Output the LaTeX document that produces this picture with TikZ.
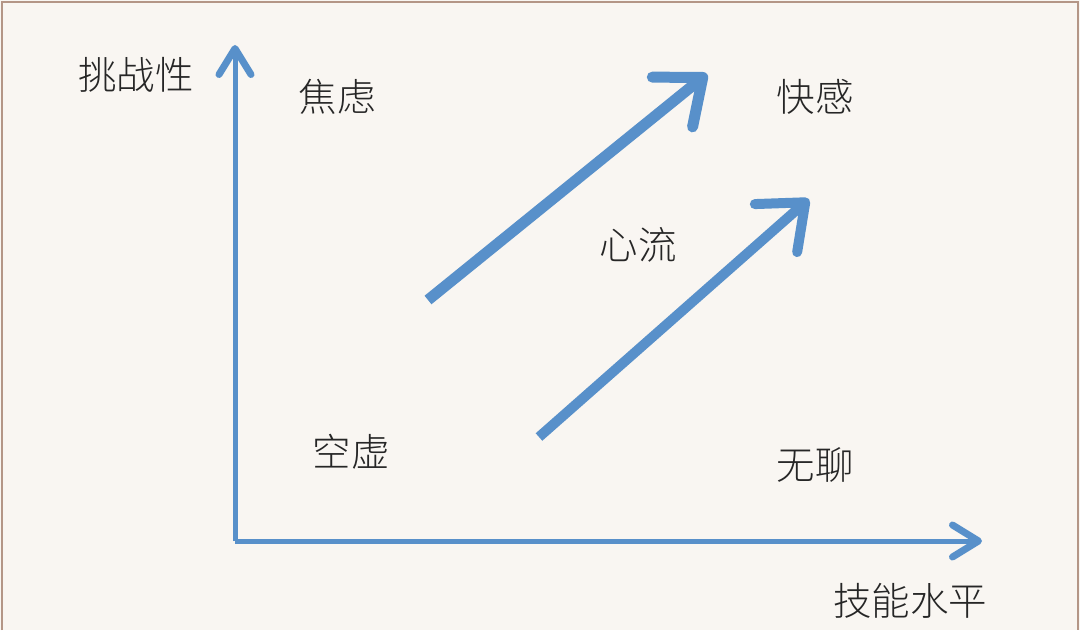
\documentclass[tikz,border=0pt]{standalone}
\usepackage{fontspec}
\newfontfamily\cjk{Noto Sans CJK SC}[UprightFont = * Light]
\usetikzlibrary{arrows.meta}
\definecolor{flowblue}{RGB}{88,144,202}
\definecolor{paper}{RGB}{249,246,242}
\definecolor{edge}{RGB}{180,150,135}

\begin{document}
\begin{tikzpicture}[x = 1pt, y = -1pt,
    word/.style = {font = \cjk\fontsize{38.5}{42}\selectfont, text = black!85, inner sep = 0pt},
    axis/.style = {draw = flowblue, line width = 5pt, -{Straight Barb[round, line width = 7pt, length = 26pt, width = 32pt]}},
    flow/.style = {draw = flowblue, line width = 11pt, -{Straight Barb[round, length = 39pt, width = 64pt]}}]
    \fill[paper] (0,0) rectangle (1080,630);
    \draw[edge, line width = 1.5pt] (2,630) -- (2,2) -- (1078,2) -- (1078,630);
    % axes
    \coordinate (origin) at (235,541);
    \coordinate (ytip) at (235,45);
    \coordinate (xtip) at (982,541);
    \draw[axis] (origin) -- (ytip);
    \draw[axis] (origin) -- (xtip);
    \node[word] (challenge) at (136,75) {挑战性};
    \node[word] (skill) at (910,601) {技能水平};
    % the four corners and the channel
    \node[word] (anxiety) at (337,97) {焦虑};
    \node[word] (pleasure) at (815,97) {快感};
    \node[word] (flow) at (638,245) {心流};
    \node[word] (apathy) at (351,452) {空虚};
    \node[word] (boredom) at (815,465) {无聊};
    \coordinate (upstart) at (428,300);
    \coordinate (upend) at (707,74);
    \coordinate (lowstart) at (539,437);
    \coordinate (lowend) at (809,199);
    \draw[flow] (upstart) -- (upend);
    \draw[flow, line width = 10pt] (lowstart) -- (lowend);
\end{tikzpicture}
\end{document}
